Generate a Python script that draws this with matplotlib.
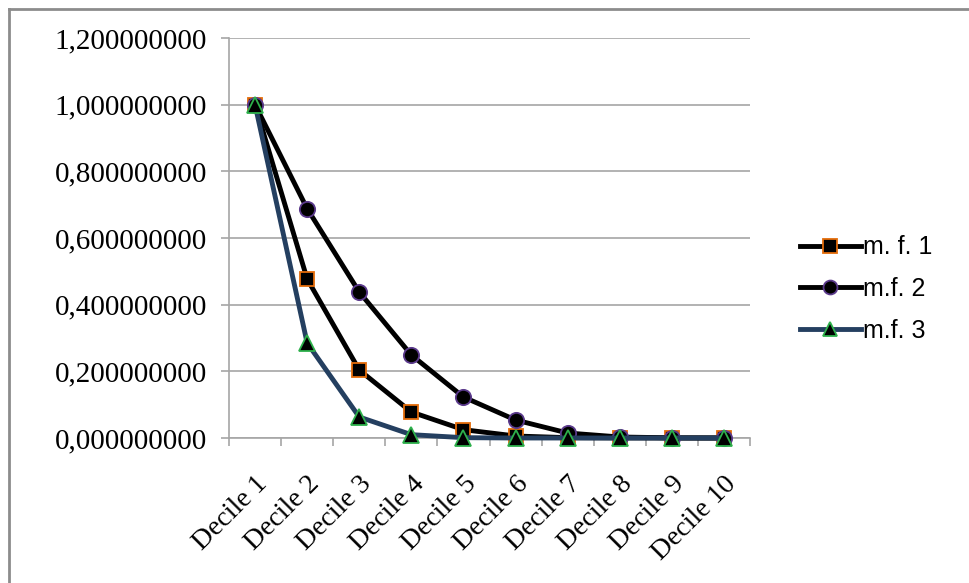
import numpy as np
import matplotlib.pyplot as plt
from matplotlib.lines import Line2D

deciles = ['Decile 1', 'Decile 2', 'Decile 3', 'Decile 4', 'Decile 5',
           'Decile 6', 'Decile 7', 'Decile 8', 'Decile 9', 'Decile 10']
mf1 = [1.0, 0.477, 0.204, 0.078, 0.025, 0.006, 0.001, 0.0002, 0.0, 0.0]
mf2 = [1.0, 0.688, 0.438, 0.249, 0.123, 0.054, 0.015, 0.003, 0.0005, 0.0]
mf3 = [1.0, 0.285, 0.063, 0.010, 0.001, 0.0, 0.0, 0.0, 0.0, 0.0]
yticks = [0.0, 0.2, 0.4, 0.6, 0.8, 1.0, 1.2]

W, H = 969, 583
fig = plt.figure(figsize=(W / 100, H / 100), dpi=100)
# plot area in pixels: x 229..750, y 38..438
ax = fig.add_axes([229 / W, 1 - 438 / H, (750 - 229) / W, (438 - 38) / H])

x = np.arange(len(deciles))
styles = [
    (mf1, 'm. f. 1', 'black', 's', '#E46C0A', 10.5),
    (mf2, 'm.f. 2', 'black', 'o', '#5B3A8C', 11),
    (mf3, 'm.f. 3', '#243F60', '^', '#2DB04B', 11),
]
handles = []
for vals, name, lc, mk, ec, ms in styles:
    ax.plot(x, vals, color=lc, lw=3.5, marker=mk, markersize=ms,
            markerfacecolor='black', markeredgecolor=ec, markeredgewidth=1.3,
            zorder=3, clip_on=False)
    handles.append(Line2D([], [], color=lc, lw=3.5, marker=mk, markersize=ms - 1,
                          markerfacecolor='black', markeredgecolor=ec,
                          markeredgewidth=1.3, label=name))

ax.set_xlim(-0.5, len(deciles) - 0.5)
ax.set_ylim(0, 1.2)
ax.set_yticks(yticks)
ax.set_yticklabels([f'{v:.9f}'.replace('.', ',') for v in yticks],
                   family='Liberation Serif', fontsize=21)
ax.yaxis.grid(True, color='#A6A6A6', lw=1.2)
ax.set_axisbelow(True)

# category ticks sit between the points
ax.set_xticks(np.arange(-0.5, len(deciles) + 0.5, 1.0))
ax.set_xticklabels([])
ax.set_xticks(x, minor=True)
ax.set_xticklabels(deciles, minor=True, rotation=45, ha='right',
                   rotation_mode='anchor', family='Liberation Serif', fontsize=20)
ax.tick_params(axis='x', which='minor', length=0, pad=24)
ax.tick_params(axis='x', which='major', length=6, color='#A6A6A6', width=1.2)
ax.tick_params(axis='y', length=6, color='#A6A6A6', width=1.2, pad=10)

for side in ['top', 'right']:
    ax.spines[side].set_visible(False)
for side in ['left', 'bottom']:
    ax.spines[side].set_color('#A6A6A6')
    ax.spines[side].set_linewidth(1.2)

fig.legend(handles=handles, loc='upper left', bbox_to_anchor=(777 / W, 1 - 213 / H),
           frameon=False, prop={'family': 'Liberation Sans', 'size': 18},
           handlelength=2.45, handletextpad=0.1, labelspacing=0.7)

# chart frame
fig.add_artist(Line2D([9 / W, 1.0], [1 - 9 / H, 1 - 9 / H], color='#8C8C8C', lw=2))
fig.add_artist(Line2D([9 / W, 9 / W], [0.0, 1 - 9 / H], color='#8C8C8C', lw=2))

fig.savefig('out.png', dpi=100)
